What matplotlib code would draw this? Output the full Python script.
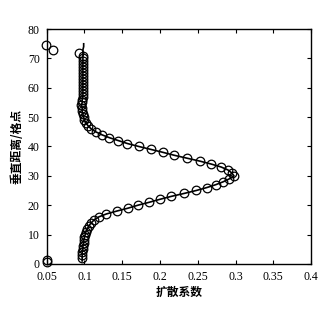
"""
扩散系数垂直廓线：实线为拟合廓线，圆圈为各格点的取值。
"""
import matplotlib.pyplot as plt

# ── 数据 ──────────────────────────────────────────────────────────
# 垂直格点 1..75 上的扩散系数（实线）
levels = list(range(1, 76))
diff_coef = [
    0.097, 0.097, 0.097, 0.097, 0.098, 0.098, 0.099, 0.099, 0.100, 0.101,   # 1-10
    0.102, 0.104, 0.106, 0.109, 0.113, 0.119, 0.129, 0.143, 0.158, 0.171,   # 11-20
    0.186, 0.200, 0.215, 0.232, 0.248, 0.262, 0.274, 0.284, 0.292, 0.298,   # 21-30
    0.295, 0.290, 0.281, 0.268, 0.253, 0.236, 0.219, 0.204, 0.188, 0.172,   # 31-40
    0.157, 0.145, 0.133, 0.123, 0.115, 0.109, 0.105, 0.102, 0.100, 0.099,   # 41-50
    0.098, 0.097, 0.097, 0.096, 0.097, 0.097, 0.098, 0.098, 0.098, 0.098,   # 51-60
    0.098, 0.098, 0.098, 0.098, 0.098, 0.098, 0.098, 0.098, 0.098, 0.098,   # 61-70
    0.098, 0.098, 0.098, 0.099, 0.099,                                      # 71-75
]
# 圆圈取第 2..71 层
circle_from, circle_to = 2, 71

# 偏离廓线的几个点
outlier_x = [0.049, 0.059, 0.093, 0.051, 0.050]
outlier_y = [74.6, 73.0, 72.0, 1.2, 0.6]

xticks = [0.05, 0.1, 0.15, 0.2, 0.25, 0.3, 0.35, 0.4]
xtick_labels = ["0.05", "0.1", "0.15", "0.2", "0.25", "0.3", "0.35", "0.4"]
yticks = [0, 10, 20, 30, 40, 50, 60, 70, 80]

# ── 图 ────────────────────────────────────────────────────────────
fig = plt.figure(figsize=(3.24, 3.13), dpi=100)
fig.patch.set_facecolor("white")
ax = fig.add_axes([0.144, 0.157, 0.816, 0.750])

TICK_FONT = "Liberation Serif"
CJK = ["Noto Sans CJK SC", "DejaVu Sans"]

ax.plot(diff_coef, levels, color="black", lw=1.2, zorder=2)

i0, i1 = circle_from - 1, circle_to
ax.plot(diff_coef[i0:i1], levels[i0:i1], ls="none", marker="o",
        ms=6.2, mfc="none", mec="black", mew=0.9, zorder=3)
ax.plot(outlier_x, outlier_y, ls="none", marker="o",
        ms=6.2, mfc="none", mec="black", mew=0.9, zorder=3, clip_on=False)

ax.set_xlim(0.05, 0.4)
ax.set_ylim(0, 80)
ax.set_xticks(xticks)
ax.set_xticklabels(xtick_labels)
ax.set_yticks(yticks)

ax.tick_params(direction="in", top=True, right=True, length=3, width=0.8,
               labelsize=8.5)
ax.tick_params(axis="x", pad=5)
ax.tick_params(axis="y", pad=5)
for lbl in ax.get_xticklabels() + ax.get_yticklabels():
    lbl.set_fontfamily(TICK_FONT)

for sp in ax.spines.values():
    sp.set_linewidth(1.0)

ax.set_xlabel("扩散系数", family=CJK, fontsize=8.5, fontweight="bold",
              labelpad=2)
ax.set_ylabel("垂直距离/格点", family=CJK, fontsize=8.5, fontweight="bold",
              labelpad=3)

fig.savefig("out.png", dpi=100, facecolor="white")
plt.close(fig)
